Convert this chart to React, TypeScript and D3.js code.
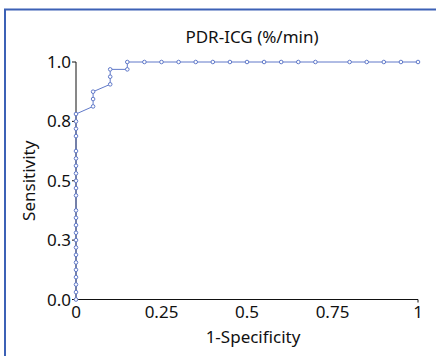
import * as d3 from 'd3';

// ROC points (x = 1-specificity, y = sensitivity)
const fpr = [
  0, 0, 0, 0, 0, 0, 0, 0, 0, 0, 0, 0, 0, 0, 0, 0, 0, 0, 0, 0, 0, 0, 0, 0,
  0.05, 0.05, 0.05, 0.1, 0.1, 0.1, 0.15, 0.15,
  0.2, 0.25, 0.3, 0.35, 0.4, 0.45, 0.5, 0.55, 0.6, 0.65, 0.7,
  0.8, 0.85, 0.9, 0.95, 1,
];
const sensitivity = [
  0, 0.031, 0.063, 0.094, 0.125, 0.156, 0.188, 0.219, 0.25, 0.281, 0.313, 0.344, 0.375,
  0.438, 0.469, 0.5, 0.531, 0.563, 0.594, 0.625,
  0.688, 0.719, 0.75, 0.781,
  0.813, 0.844, 0.875, 0.906, 0.938, 0.969, 0.969, 1,
  1, 1, 1, 1, 1, 1, 1, 1, 1, 1, 1,
  1, 1, 1, 1, 1,
];
const xTicks = [0, 0.25, 0.5, 0.75, 1];
const yTicks = [0, 0.25, 0.5, 0.75, 1];

const W = 436;
const H = 356;
const font = '"Noto Sans", sans-serif';
const lineColor = '#6079c9';

export default function App() {
  const x = d3.scaleLinear().domain([0, 1]).range([76, 418]);
  const y = d3.scaleLinear().domain([0, 1]).range([299.5, 62]);
  const pts = fpr.map((f, i) => [f, sensitivity[i]] as [number, number]);
  const line = d3.line<[number, number]>().x(d => x(d[0])).y(d => y(d[1]));
  const yFmt = d3.format('.1f');

  return (
    <svg width={W} height={H} style={{ position: 'fixed', left: 0, top: 0, background: '#fff' }}>
      <rect x={5} y={9.5} width={W + 20} height={H + 20} fill="none" stroke="#3c61b6" strokeWidth={2} />

      <text x={252} y={43} textAnchor="middle" fontFamily={font} fontSize={17} fill="#111">PDR-ICG (%/min)</text>

      {/* y axis */}
      <line x1={x(0)} x2={x(0)} y1={y(1)} y2={y(0)} stroke="#111" strokeWidth={1} />
      {yTicks.map(t => (
        <g key={t}>
          <line x1={x(0) - 4} x2={x(0)} y1={y(t)} y2={y(t)} stroke="#111" />
          <text x={71} y={y(t)} dy="0.36em" textAnchor="end" fontFamily={font} fontSize={17} fill="#111">{yFmt(t)}</text>
        </g>
      ))}
      <text transform={`translate(35,${(y(0) + y(1)) / 2}) rotate(-90)`} textAnchor="middle" fontFamily={font} fontSize={17} fill="#111">Sensitivity</text>

      {/* x axis */}
      <line x1={x(0)} x2={x(1)} y1={y(0)} y2={y(0)} stroke="#111" />
      <line x1={x(1)} x2={x(1)} y1={y(0)} y2={y(0) + 3} stroke="#111" />
      {xTicks.map(t => (
        <text key={t} x={x(t)} y={318} textAnchor="middle" fontFamily={font} fontSize={17} fill="#111">{String(t)}</text>
      ))}
      <text x={253} y={343} textAnchor="middle" fontFamily={font} fontSize={17} fill="#111">1-Specificity</text>

      <path d={line(pts) ?? ''} fill="none" stroke={lineColor} strokeWidth={1} />
      {pts.map((p, i) => (
        <circle key={i} cx={x(p[0])} cy={y(p[1])} r={1.8} fill="#fff" stroke={lineColor} strokeWidth={1} />
      ))}
    </svg>
  );
}
